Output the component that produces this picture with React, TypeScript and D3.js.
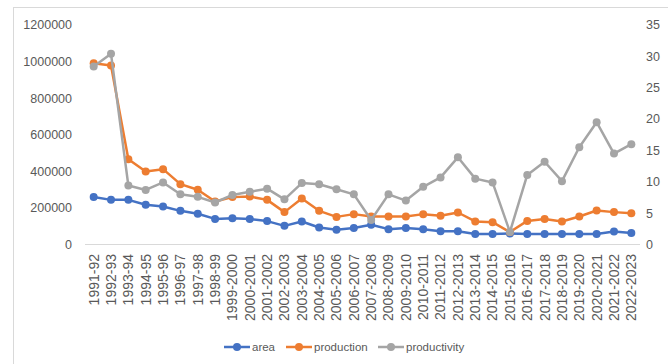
import React, { useEffect, useRef } from "react";
import * as d3 from "d3";

const years = [
  "1991-92", "1992-93", "1993-94", "1994-95", "1995-96", "1996-97", "1997-98", "1998-99",
  "1999-2000", "2000-2001", "2001-2002", "2002-2003", "2003-2004", "2004-2005", "2005-2006",
  "2006-2007", "2007-2008", "2008-2009", "2009-2010", "2010-2011", "2011-2012", "2012-2013",
  "2013-2014", "2014-2015", "2015-2016", "2016-2017", "2017-2018", "2018-2019", "2019-2020",
  "2020-2021", "2021-2022", "2022-2023",
];

const area = [
  260000, 244000, 244000, 217000, 208000, 184000, 168000, 140000, 144000, 140000, 128000,
  102000, 126000, 93000, 81000, 90000, 108000, 84000, 90000, 84000, 73000, 72000, 58000,
  58000, 60000, 58000, 58000, 58000, 58000, 58000, 71000, 63000,
];

const production = [
  991000, 978000, 466000, 399000, 412000, 330000, 299000, 235000, 259000, 262000, 244000,
  177000, 251000, 184000, 151000, 166000, 153000, 153000, 153000, 166000, 157000, 175000,
  126000, 122000, 68000, 129000, 140000, 126000, 153000, 186000, 177000, 171000,
];

const productivity = [
  28.4, 30.4, 9.4, 8.7, 9.9, 8.0, 7.6, 6.7, 7.9, 8.4, 8.9, 7.2, 9.8, 9.6, 8.8, 8.0, 3.9,
  8.0, 7.0, 9.2, 10.7, 13.9, 10.5, 9.9, 2.0, 11.1, 13.2, 10.1, 15.5, 19.5, 14.5, 16.0,
];

const leftTicks = [0, 200000, 400000, 600000, 800000, 1000000, 1200000];
const rightTicks = [0, 5, 10, 15, 20, 25, 30, 35];

const colors = { area: "#4472C4", production: "#ED7D31", productivity: "#A5A5A5" };

export default function App() {
  const ref = useRef<SVGSVGElement>(null);

  useEffect(() => {
    const svg = d3.select(ref.current);
    svg.selectAll("*").remove();

    const font = "'Liberation Sans', Arial, sans-serif";
    const textColor = "#595959";

    svg.append("rect")
      .attr("x", 13.5).attr("y", 7.5)
      .attr("width", 700).attr("height", 400)
      .attr("fill", "#fff").attr("stroke", "#d9d9d9");

    const x = d3.scalePoint<string>().domain(years).range([85, 640]).padding(0.5);
    const yL = d3.scaleLinear().domain([0, 1200000]).range([244.5, 25]);
    const yR = d3.scaleLinear().domain([0, 35]).range([244.5, 25]);

    // baseline
    svg.append("line")
      .attr("x1", 85).attr("x2", 640)
      .attr("y1", yL(0)).attr("y2", yL(0))
      .attr("stroke", "#d9d9d9");

    svg.append("g").selectAll("text").data(leftTicks).enter().append("text")
      .attr("x", 72).attr("y", d => yL(d)).attr("dy", "0.35em")
      .attr("text-anchor", "end")
      .attr("font-family", font).attr("font-size", 12.5).attr("fill", textColor)
      .text(d => String(d));

    svg.append("g").selectAll("text").data(rightTicks).enter().append("text")
      .attr("x", 646).attr("y", d => yR(d)).attr("dy", "0.35em")
      .attr("text-anchor", "start")
      .attr("font-family", font).attr("font-size", 12.5).attr("fill", textColor)
      .text(d => String(d));

    svg.append("g").selectAll("text").data(years).enter().append("text")
      .attr("transform", d => `translate(${x(d)},254) rotate(-90)`)
      .attr("dy", "0.35em")
      .attr("text-anchor", "end")
      .attr("font-family", font).attr("font-size", 14).attr("fill", textColor)
      .text(d => d);

    const series = [
      { key: "area", values: area, y: yL },
      { key: "production", values: production, y: yL },
      { key: "productivity", values: productivity, y: yR },
    ];

    series.forEach(s => {
      const c = colors[s.key as keyof typeof colors];
      const line = d3.line<number>()
        .x((_, i) => x(years[i]) as number)
        .y(d => s.y(d));
      svg.append("path")
        .datum(s.values)
        .attr("d", line)
        .attr("fill", "none")
        .attr("stroke", c)
        .attr("stroke-width", 2.5)
        .attr("stroke-linejoin", "round");
      svg.append("g").selectAll("circle").data(s.values).enter().append("circle")
        .attr("cx", (_, i) => x(years[i]) as number)
        .attr("cy", d => s.y(d))
        .attr("r", 4)
        .attr("fill", c);
    });

    // legend
    const legend = [
      { key: "area", x: 224 },
      { key: "production", x: 286 },
      { key: "productivity", x: 378 },
    ];
    const lg = svg.append("g").selectAll("g").data(legend).enter().append("g")
      .attr("transform", d => `translate(${d.x},347)`);
    lg.append("line")
      .attr("x1", 0).attr("x2", 26)
      .attr("stroke", d => colors[d.key as keyof typeof colors])
      .attr("stroke-width", 2.5);
    lg.append("circle")
      .attr("cx", 13).attr("r", 4)
      .attr("fill", d => colors[d.key as keyof typeof colors]);
    lg.append("text")
      .attr("x", 28).attr("dy", "0.35em")
      .attr("font-family", font).attr("font-size", 11.5).attr("fill", textColor)
      .text(d => d.key);
  }, []);

  return (
    <svg
      ref={ref}
      width={668}
      height={364}
      style={{ position: "absolute", left: 0, top: 0, background: "#fff" }}
    />
  );
}
